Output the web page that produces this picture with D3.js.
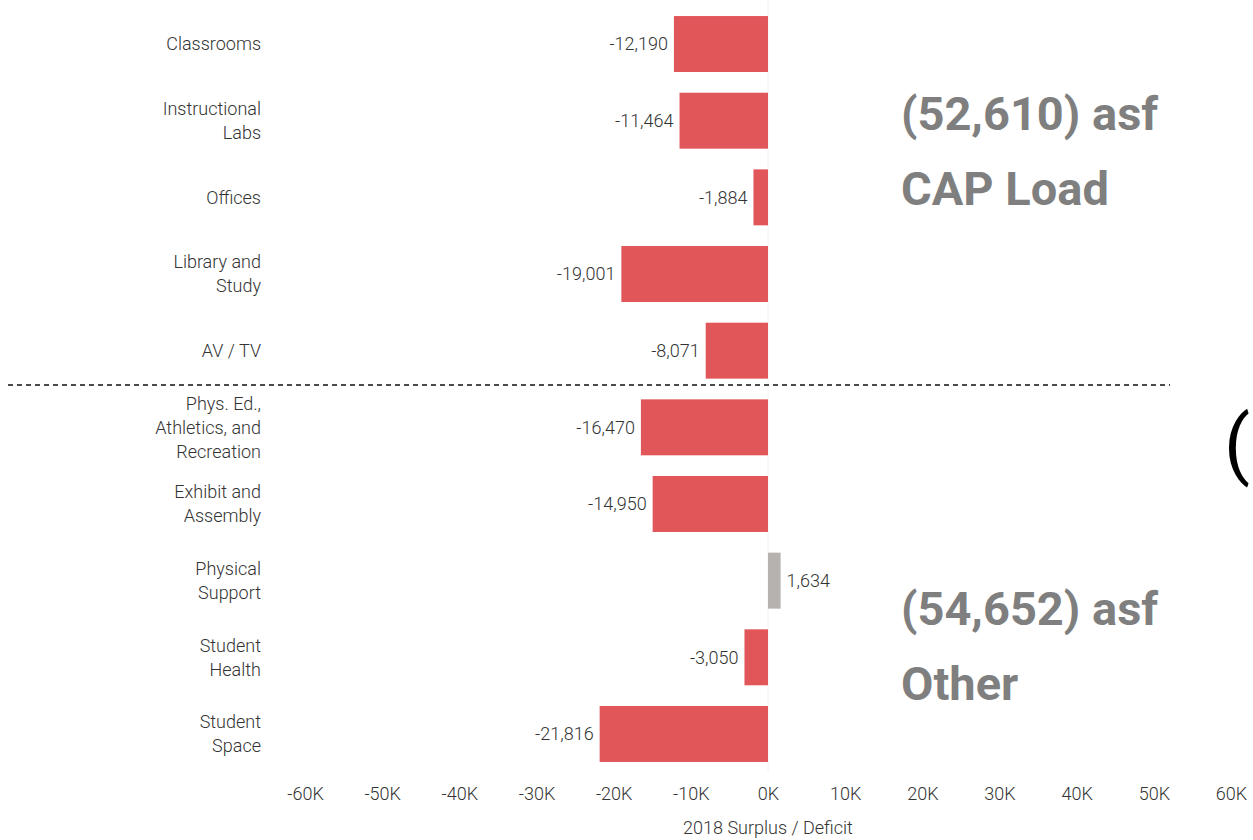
<!DOCTYPE html>
<html>
<head>
<meta charset="utf-8">
<script src="https://cdn.jsdelivr.net/npm/d3@7"></script>
<style>
  body { margin: 0; background: #fff; }
  text { font-family: Roboto, "Open Sans", sans-serif; }
</style>
</head>
<body>
<div id="chart"></div>
<script>
// category labels (multi-line ones split on |)
const categories = [
  "Classrooms",
  "Instructional|Labs",
  "Offices",
  "Library and|Study",
  "AV / TV",
  "Phys. Ed.,|Athletics, and|Recreation",
  "Exhibit and|Assembly",
  "Physical|Support",
  "Student|Health",
  "Student|Space"
];
const values = [-12190, -11464, -1884, -19001, -8071, -16470, -14950, 1634, -3050, -21816];
const ticks = [-60000, -50000, -40000, -30000, -20000, -10000, 0, 10000, 20000, 30000, 40000, 50000, 60000];
const groupTotals = ["(52,610) asf", "(54,652) asf"];
const groupNames = ["CAP Load", "Other"];

const width = 1253, height = 840;

const svg = d3.select("#chart").append("svg")
  .attr("width", width)
  .attr("height", height);

const x = d3.scaleLinear()
  .domain([-60000, 60000])
  .range([305, 1231]);

const y = d3.scaleBand()
  .domain(d3.range(categories.length))
  .range([5.7, 772.3])
  .paddingInner(0.27)
  .paddingOuter(0.135);

// faint zero line
svg.append("line")
  .attr("x1", x(0)).attr("x2", x(0))
  .attr("y1", 0).attr("y2", 772)
  .attr("stroke", "#f2f2f2")
  .attr("stroke-width", 1);

// bars
svg.selectAll(".bar")
  .data(values)
  .enter()
  .append("rect")
  .attr("class", "bar")
  .attr("x", d => x(Math.min(0, d)))
  .attr("y", (d, i) => y(i))
  .attr("width", d => Math.abs(x(d) - x(0)))
  .attr("height", y.bandwidth())
  .attr("fill", d => d < 0 ? "#e15759" : "#b5b2af");

// value labels
svg.selectAll(".val")
  .data(values)
  .enter()
  .append("text")
  .attr("class", "val")
  .attr("x", d => d < 0 ? x(d) - 6 : x(d) + 6)
  .attr("y", (d, i) => y(i) + y.bandwidth() / 2)
  .attr("dy", "0.35em")
  .attr("text-anchor", d => d < 0 ? "end" : "start")
  .attr("font-size", 18)
  .attr("font-weight", 300)
  .attr("fill", "#333")
  .text(d => d3.format(",")(d).replace("−", "-"));

// category labels
const lineH = 24;
categories.forEach((c, i) => {
  const lines = c.split("|");
  const cy = y(i) + y.bandwidth() / 2;
  const t = svg.append("text")
    .attr("text-anchor", "end")
    .attr("font-size", 18)
    .attr("font-weight", 300)
    .attr("fill", "#333");
  lines.forEach((l, j) => {
    t.append("tspan")
      .attr("x", 261)
      .attr("y", cy + (j - (lines.length - 1) / 2) * lineH)
      .attr("dy", "0.35em")
      .text(l);
  });
});

// x axis
const axis = svg.append("g")
  .attr("transform", "translate(0,778)")
  .call(d3.axisBottom(x).tickValues(ticks).tickSize(0).tickPadding(9)
    .tickFormat(d => d === 0 ? "0K" : (d / 1000) + "K"));
axis.select(".domain").remove();
axis.selectAll("text")
  .attr("font-family", "Roboto, sans-serif")
  .attr("font-size", 18)
  .attr("font-weight", 300)
  .attr("fill", "#333");

svg.append("text")
  .attr("x", x(0))
  .attr("y", 834)
  .attr("text-anchor", "middle")
  .attr("font-size", 18)
  .attr("font-weight", 300)
  .attr("fill", "#333")
  .text("2018 Surplus / Deficit");

// divider between groups
svg.append("line")
  .attr("x1", 8).attr("x2", 1170)
  .attr("y1", 385).attr("y2", 385)
  .attr("stroke", "#111")
  .attr("stroke-width", 1.5)
  .attr("stroke-dasharray", "5,4");

// group annotations
const annY = [[130, 205], [625, 700]];
groupTotals.forEach((g, i) => {
  svg.append("text")
    .attr("x", 901).attr("y", annY[i][0])
    .attr("font-size", 47).attr("font-weight", 700)
    .attr("fill", "#7f7f7f")
    .text(g);
  svg.append("text")
    .attr("x", 901).attr("y", annY[i][1])
    .attr("font-size", 47).attr("font-weight", 700)
    .attr("fill", "#7f7f7f")
    .text(groupNames[i]);
});

// cut-off bracket at right edge
svg.append("text")
  .attr("x", 1224).attr("y", 470)
  .attr("font-size", 76).attr("font-weight", 400)
  .attr("fill", "#000")
  .text("(");
</script>
</body>
</html>
